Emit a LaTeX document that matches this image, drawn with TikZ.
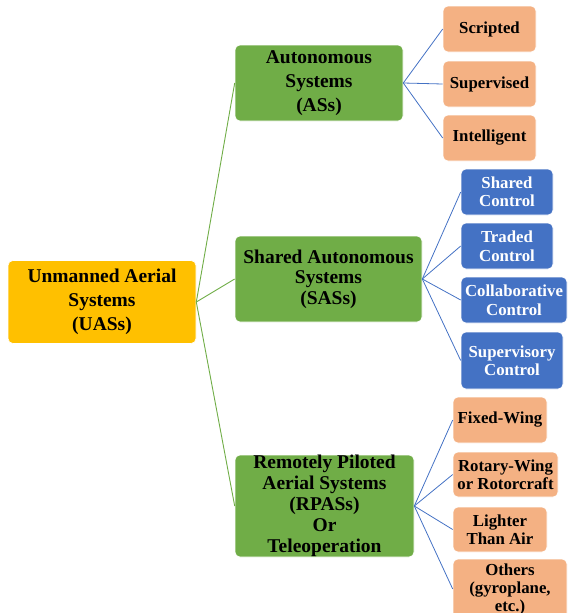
\documentclass[tikz,border=0pt]{standalone}
\usepackage{fontspec}
\setmainfont{Liberation Serif}
\usetikzlibrary{positioning}

\definecolor{uasgold}{HTML}{FFC000}
\definecolor{sysgreen}{HTML}{70AD47}
\definecolor{subpeach}{HTML}{F4B183}
\definecolor{subblue}{HTML}{4472C4}

\tikzset{
  box/.style={rounded corners=5pt, draw=white, line width=0.6pt, align=center,
    inner sep=0pt, font=\bfseries\fontsize{19.5}{24}\selectfont},
  rootbox/.style={box, fill=uasgold, minimum width=188pt, minimum height=83pt},
  sysbox/.style={box, fill=sysgreen},
  leafbox/.style={box, fill=subpeach, minimum height=46pt,
    font=\bfseries\fontsize{16.8}{18.5}\selectfont},
  ctrlbox/.style={leafbox, fill=subblue, text=white},
  mainline/.style={draw=sysgreen, line width=0.9pt},
  subline/.style={draw=subblue, line width=0.8pt}
}

\begin{document}
\begin{tikzpicture}[x=1pt,y=-1pt]
\useasboundingbox (0,0) rectangle (568,613);
% nodes
\node[rootbox] (uas) at (102,302) {Unmanned Aerial\\Systems\\(UASs)};%
\node[sysbox, minimum width=168pt, minimum height=76pt] (as) at (319,83) {Autonomous\\Systems\\(ASs)};%
\node[sysbox, minimum width=187pt, minimum height=86pt,
  font=\bfseries\fontsize{19.5}{20.5}\selectfont] (sas) at (328.5,279) {Shared Autonomous\\Systems\\(SASs)};%
\node[sysbox, minimum width=179pt, minimum height=102pt,
  font=\bfseries\fontsize{19.5}{21}\selectfont] (rpas) at (324.5,506) {Remotely Piloted\\Aerial Systems\\(RPASs)\\Or\\Teleoperation};%

% ASs children
\node[leafbox, minimum width=93pt] (scripted) at (489.5,29) {Scripted};%
\node[leafbox, minimum width=93pt] (supervised) at (489.5,84) {Supervised};%
\node[leafbox, minimum width=93pt] (intelligent) at (489.5,138) {Intelligent};%

% SASs children
\node[ctrlbox, minimum width=92pt] (shared) at (507,192) {Shared\\Control};%
\node[ctrlbox, minimum width=92pt] (traded) at (507,246) {Traded\\Control};%
\node[ctrlbox, minimum width=106pt] (collab) at (514,300) {Collaborative\\Control};%
\node[ctrlbox, minimum width=102pt, minimum height=57pt] (supervisory) at (512,360.5) {Supervisory\\Control};%

% RPASs children
\node[leafbox, minimum width=94pt] (fixed) at (500,420) {Fixed-Wing};%
\node[leafbox, minimum width=105pt, minimum height=45pt] (rotary) at (505.5,474.5) {Rotary-Wing\\or Rotorcraft};%
\node[leafbox, minimum width=94pt, minimum height=45pt] (lighter) at (500,529.5) {Lighter\\Than Air};%
\node[leafbox, minimum width=114pt, minimum height=60pt,
  font=\bfseries\fontsize{16.8}{18}\selectfont] (others) at (510,589) {Others\\(gyroplane,\\etc.)};%

% edges
\draw[mainline] (uas.east) -- (as.west);
\draw[mainline] (uas.east) -- (sas.west);
\draw[mainline] (uas.east) -- (rpas.west);

\draw[subline] (as.east) -- (scripted.west);
\draw[subline] (as.east) -- (supervised.west);
\draw[subline] (as.east) -- (intelligent.west);

\draw[subline] (sas.east) -- (shared.west);
\draw[subline] (sas.east) -- (traded.west);
\draw[subline] (sas.east) -- (collab.west);
\draw[subline] (sas.east) -- (supervisory.west);

\draw[subline] (rpas.east) -- (fixed.west);
\draw[subline] (rpas.east) -- (rotary.west);
\draw[subline] (rpas.east) -- (lighter.west);
\draw[subline] (rpas.east) -- (others.west);
\end{tikzpicture}
\end{document}
